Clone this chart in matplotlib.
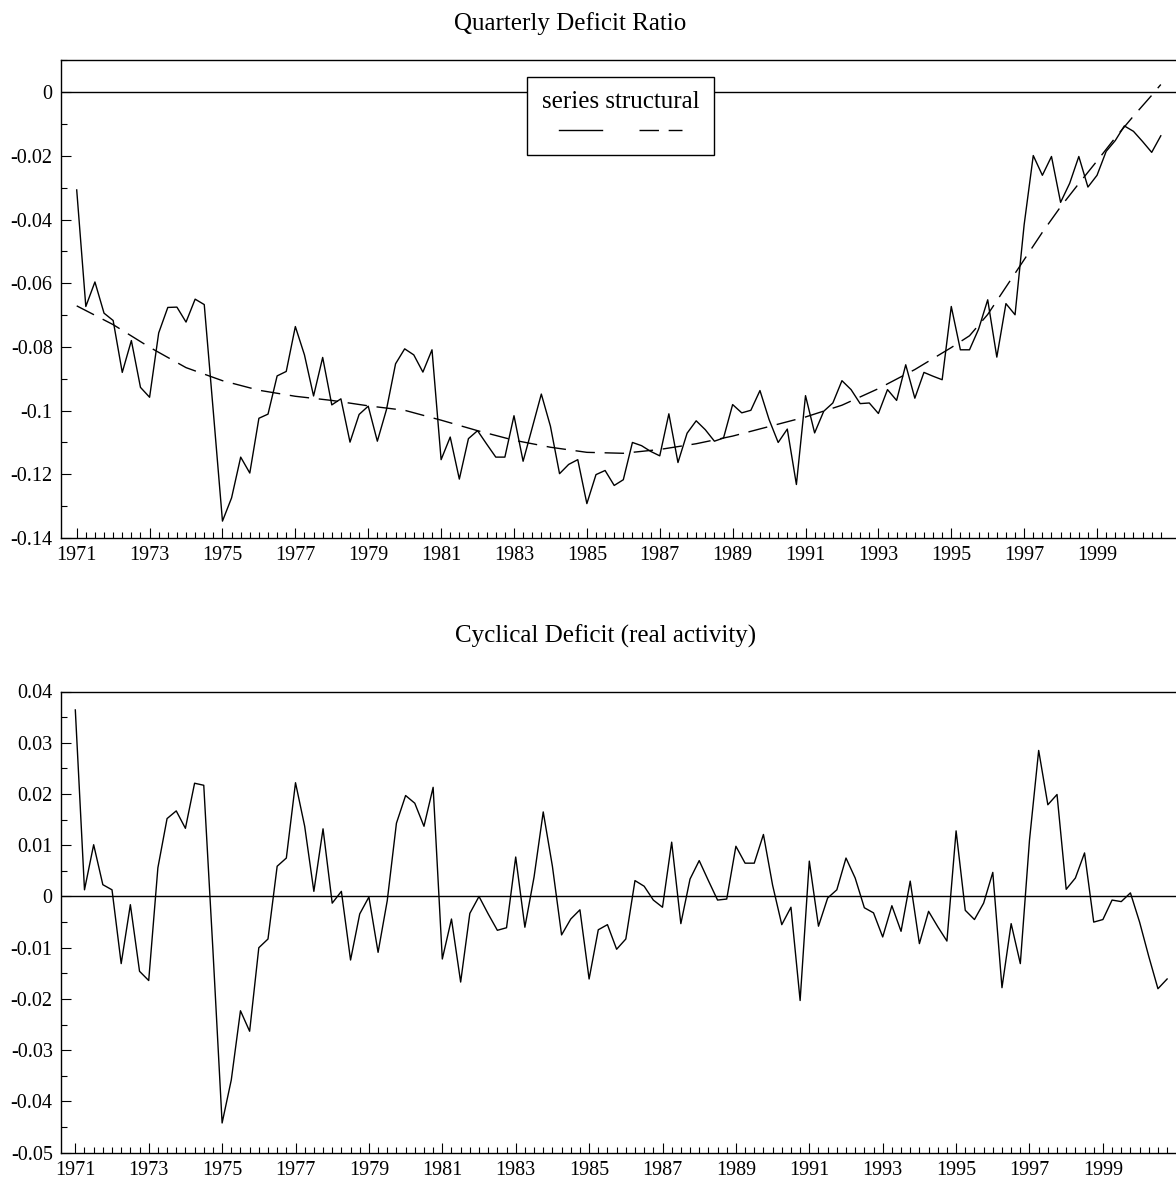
import matplotlib
matplotlib.use("Agg")
import matplotlib.pyplot as plt
from matplotlib.ticker import FixedLocator, MultipleLocator, FuncFormatter
import numpy as np

plt.rcParams['font.family'] = ['Liberation Serif', 'DejaVu Serif']
plt.rcParams['axes.unicode_minus'] = False

# quarterly dates 1971Q1 .. 2000Q4
quarters = 1971 + np.arange(120) / 4.0

series = [
    -0.0307, -0.0673, -0.0596, -0.0694,   # 1971
    -0.0717, -0.0880, -0.0780, -0.0927,   # 1972
    -0.0958, -0.0756, -0.0676, -0.0675,   # 1973
    -0.0722, -0.0650, -0.0667, -0.1005,   # 1974
    -0.1347, -0.1274, -0.1146, -0.1196,   # 1975
    -0.1024, -0.1011, -0.0891, -0.0877,   # 1976
    -0.0736, -0.0825, -0.0954, -0.0833,   # 1977
    -0.0982, -0.0963, -0.1099, -0.1012,   # 1978
    -0.0986, -0.1096, -0.0997, -0.0853,   # 1979
    -0.0806, -0.0825, -0.0879, -0.0809,   # 1980
    -0.1154, -0.1083, -0.1215, -0.1088,   # 1981
    -0.1063, -0.1105, -0.1146, -0.1146,   # 1982
    -0.1016, -0.1159, -0.1054, -0.0948,   # 1983
    -0.1049, -0.1198, -0.1169, -0.1154,   # 1984
    -0.1292, -0.1201, -0.1188, -0.1235,   # 1985
    -0.1217, -0.1100, -0.1110, -0.1128,   # 1986
    -0.1142, -0.1010, -0.1163, -0.1071,   # 1987
    -0.1032, -0.1060, -0.1096, -0.1086,   # 1988
    -0.0981, -0.1007, -0.0999, -0.0937,   # 1989
    -0.1028, -0.1100, -0.1058, -0.1232,   # 1990
    -0.0953, -0.1070, -0.1002, -0.0976,   # 1991
    -0.0906, -0.0934, -0.0978, -0.0976,   # 1992
    -0.1009, -0.0934, -0.0968, -0.0856,   # 1993
    -0.0961, -0.0880, -0.0892, -0.0903,   # 1994
    -0.0673, -0.0809, -0.0809, -0.0744,   # 1995
    -0.0652, -0.0832, -0.0664, -0.0699,   # 1996
    -0.0416, -0.0199, -0.0261, -0.0202,   # 1997
    -0.0346, -0.0286, -0.0202, -0.0298,   # 1998
    -0.0261, -0.0186, -0.0152, -0.0106,   # 1999
    -0.0123, -0.0155, -0.0189, -0.0137,   # 2000
]

# structural component, read at the dates below
struct_dates = [1971, 1972, 1973, 1974, 1975, 1976, 1977, 1978, 1979, 1980,
                1981, 1982, 1983, 1984, 1985, 1986, 1987, 1988, 1989, 1990,
                1991, 1992, 1993, 1994, 1995, 1995.5, 1996, 1996.5, 1997,
                1997.5, 1998, 1998.5, 1999, 1999.5, 2000, 2000.5, 2000.75]
structural = [-0.0671, -0.0730, -0.0801, -0.0865, -0.0906, -0.0936, -0.0955,
              -0.0968, -0.0985, -0.0999, -0.1030, -0.1063, -0.1093, -0.1115,
              -0.1131, -0.1134, -0.1122, -0.1104, -0.1080, -0.1050, -0.1020,
              -0.0983, -0.0931, -0.0871, -0.0802, -0.0765, -0.0698, -0.0612,
              -0.0526, -0.0440, -0.0360, -0.0287, -0.0216, -0.0143, -0.0075,
              -0.0010, 0.0024]

cyclical = [
    0.0364, 0.0013, 0.0101, 0.0023,
    0.0013, -0.0131, -0.0016, -0.0146,
    -0.0164, 0.0056, 0.0152, 0.0167,
    0.0133, 0.0221, 0.0217, -0.0105,
    -0.0442, -0.0358, -0.0223, -0.0263,
    -0.0100, -0.0083, 0.0059, 0.0075,
    0.0222, 0.0137, 0.0010, 0.0132,
    -0.0013, 0.0010, -0.0124, -0.0034,
    -0.0001, -0.0109, -0.0008, 0.0143,
    0.0197, 0.0182, 0.0137, 0.0213,
    -0.0122, -0.0044, -0.0167, -0.0033,
    0.0000, -0.0034, -0.0066, -0.0061,
    0.0077, -0.0060, 0.0038, 0.0165,
    0.0059, -0.0075, -0.0044, -0.0026,
    -0.0161, -0.0065, -0.0055, -0.0103,
    -0.0083, 0.0031, 0.0020, -0.0007,
    -0.0021, 0.0106, -0.0053, 0.0034,
    0.0070, 0.0031, -0.0007, -0.0005,
    0.0098, 0.0065, 0.0065, 0.0121,
    0.0022, -0.0055, -0.0021, -0.0203,
    0.0069, -0.0058, -0.0003, 0.0013,
    0.0075, 0.0036, -0.0022, -0.0032,
    -0.0079, -0.0018, -0.0068, 0.0030,
    -0.0092, -0.0029, -0.0059, -0.0087,
    0.0128, -0.0027, -0.0045, -0.0013,
    0.0047, -0.0178, -0.0053, -0.0131,
    0.0110, 0.0285, 0.0179, 0.0199,
    0.0014, 0.0036, 0.0085, -0.0050,
    -0.0045, -0.0007, -0.0010, 0.0007,
    -0.0050, -0.0117, -0.0180, -0.0161,
]

year_ticks = list(range(1971, 2000, 2))

W, H = 1176, 1186
fig = plt.figure(figsize=(W / 100, H / 100), dpi=100)
ax1 = fig.add_axes([61 / W, 1 - 538 / H, 1 - 61 / W, (538 - 60) / H])
ax2 = fig.add_axes([61 / W, 1 - 1152.7 / H, 1 - 61 / W, (1152.7 - 691.5) / H])


def fmt(v, pos):
    if abs(v) < 1e-9:
        return '0'
    return '{:g}'.format(round(v, 4))


for ax in (ax1, ax2):
    ax.spines['right'].set_visible(False)
    for s in ('top', 'left', 'bottom'):
        ax.spines[s].set_linewidth(1.0)
    ax.xaxis.set_major_locator(FixedLocator(year_ticks))
    ax.xaxis.set_minor_locator(FixedLocator(quarters))
    ax.xaxis.set_major_formatter(FuncFormatter(lambda v, p: str(int(round(v)))))
    ax.yaxis.set_major_formatter(FuncFormatter(fmt))
    ax.tick_params(which='both', direction='in', top=False, right=False,
                   width=0.8, labelsize=14.5, pad=6)
    ax.tick_params(which='major', length=7)
    ax.tick_params(which='minor', length=4)
    ax.axhline(0, color='black', lw=1.0, zorder=1)

# top panel
l1, = ax1.plot(quarters, series, color='black', lw=1.0)
l2, = ax1.plot(struct_dates, structural, color='black', lw=1.0, dashes=(14, 7))
ax1.set_xlim(1970.569, 2001.167)
ax1.set_ylim(-0.14, 0.0101)
ax1.yaxis.set_major_locator(MultipleLocator(0.02))
ax1.yaxis.set_minor_locator(MultipleLocator(0.01))

leg = ax1.legend(handles=[l1, l2], labels=['', ''], ncol=2,
                 title='series structural', title_fontsize=18, fontsize=14,
                 loc='upper left', bbox_to_anchor=(527 / W, 1 - 76.7 / H),
                 bbox_transform=fig.transFigure, borderaxespad=0,
                 fancybox=False, framealpha=1, edgecolor='black',
                 handlelength=2.21, handletextpad=0, columnspacing=1.9,
                 borderpad=0.75, labelspacing=0.5)
leg.get_frame().set_linewidth(1.0)

# bottom panel
ax2.plot(quarters, cyclical, color='black', lw=1.0)
ax2.set_xlim(1970.61, 2000.992)
ax2.set_ylim(-0.05, 0.04)
ax2.yaxis.set_major_locator(MultipleLocator(0.01))
ax2.yaxis.set_minor_locator(MultipleLocator(0.005))

fig.text(570 / W, 1 - 30 / H, 'Quarterly Deficit Ratio', ha='center',
         va='baseline', fontsize=18)
fig.text(605.5 / W, 1 - 643 / H, 'Cyclical Deficit (real activity)',
         ha='center', va='baseline', fontsize=18)

fig.savefig('out.png', dpi=100)
